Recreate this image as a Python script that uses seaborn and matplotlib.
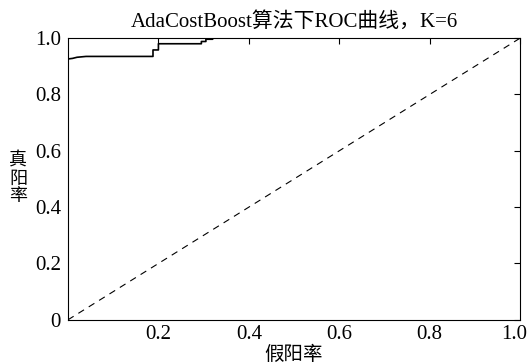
import matplotlib
matplotlib.use("Agg")
import matplotlib.pyplot as plt
import matplotlib.transforms as mtransforms
import seaborn as sns
import pandas as pd

# ROC curve points (false positive rate, true positive rate)
fpr = [0.0, 0.01, 0.02, 0.04, 0.188, 0.188, 0.2, 0.2, 0.295, 0.295, 0.305, 0.305, 0.32, 0.32, 0.48]
tpr = [0.926, 0.928, 0.932, 0.935, 0.935, 0.958, 0.958, 0.98, 0.98, 0.988, 0.988, 0.996, 0.996, 1.0, 1.0]
diag_x = [0.0, 1.0]
diag_y = [0.0, 1.0]
xticks = [0.2, 0.4, 0.6, 0.8, 1.0]
xticklabels = ["0.2", "0.4", "0.6", "0.8", "1.0"]
yticks = [0.0, 0.2, 0.4, 0.6, 0.8, 1.0]
yticklabels = ["0", "0.2", "0.4", "0.6", "0.8", "1.0"]
title = "AdaCostBoost算法下ROC曲线，K=6"
xlabel = "假阳率"
ylabel = "真\n阳\n率"

sns.set_theme(style="white")
fam = ["Liberation Serif", "Noto Sans CJK SC", "DejaVu Sans"]
plt.rcParams["font.family"] = fam

roc = pd.DataFrame({"fpr": fpr, "tpr": tpr})
diag = pd.DataFrame({"x": diag_x, "y": diag_y})

fig = plt.figure(figsize=(5.27, 3.63), dpi=100)
ax = fig.add_axes([0.129, 0.119, 0.858, 0.776])

sns.lineplot(data=roc, x="fpr", y="tpr", sort=False, estimator=None,
             color="black", linewidth=1.2, ax=ax)
sns.lineplot(data=diag, x="x", y="y", sort=False, estimator=None,
             color="black", linewidth=0.8, linestyle=(0, (6, 5)), ax=ax)

ax.set_xlim(0, 1)
ax.set_ylim(0, 1)
ax.set_xticks(xticks)
ax.set_xticklabels(xticklabels)
ax.set_yticks(yticks)
ax.set_yticklabels(yticklabels)
ax.tick_params(direction="in", length=4, width=0.8, color="black",
               top=True, right=True, labelsize=15, labelcolor="black")
ax.tick_params(axis="x", pad=4)
ax.tick_params(axis="y", pad=5)
for s in ax.spines.values():
    s.set_color("black")
    s.set_linewidth(0.8)

# keep the last x tick label inside the figure, as in the reference
last = ax.get_xticklabels()[-1]
last.set_transform(last.get_transform() + mtransforms.ScaledTranslation(-6 / 100, 0, fig.dpi_scale_trans))

ax.set_title(title, fontsize=15, color="black", pad=8)
ax.set_xlabel(xlabel, fontsize=14, color="black", labelpad=1)
ax.set_ylabel(ylabel, fontsize=13, color="black", rotation=0, linespacing=1.05,
              va="center", ha="center")
ax.yaxis.set_label_coords(-0.11, 0.5)

fig.savefig("out.png", dpi=100)
